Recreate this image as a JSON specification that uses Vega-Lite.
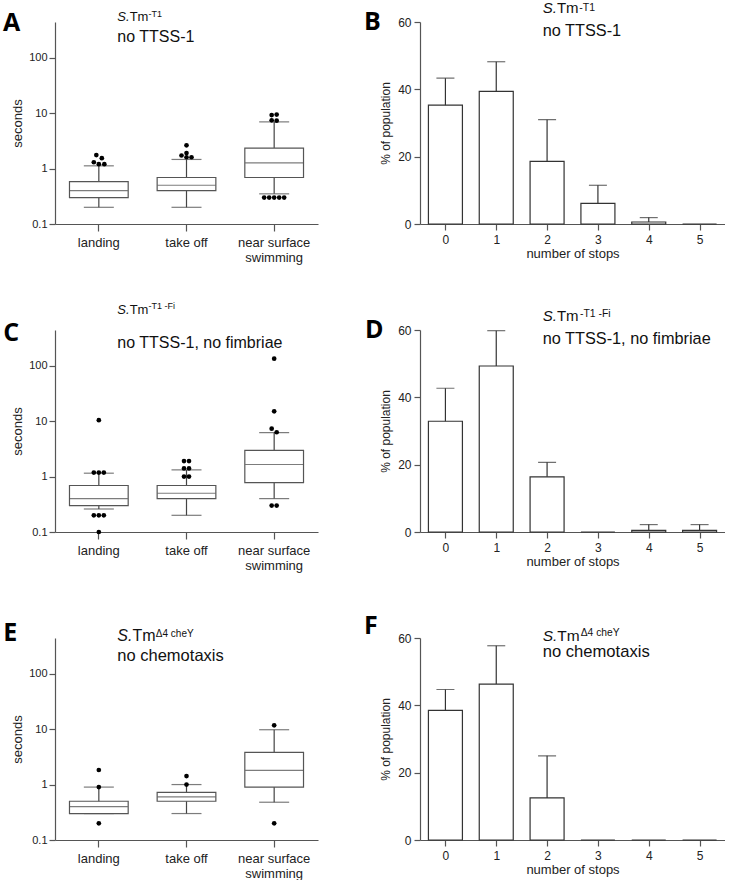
{
  "$schema": "https://vega.github.io/schema/vega-lite/v6.json",
  "background": "white",
  "padding": {"left": 3, "top": 0, "right": 0, "bottom": 0},
  "columns": 2,
  "bounds": "flush",
  "spacing": {"row": 106, "column": 102},
  "config": {
    "view": {"stroke": null},
    "font": "Liberation Sans",
    "text": {"font": "Liberation Sans", "color": "#111"},
    "axis": {"domainColor": "#555", "tickColor": "#555", "labelColor": "#222", "titleColor": "#222", "labelFont": "Liberation Sans", "titleFont": "Liberation Sans", "titleFontWeight": "normal", "grid": false, "domainWidth": 1.2, "tickWidth": 1.2}
  },
  "datasets": {
    "box": [
      {"panel": "A", "cat": "landing", "lo": 0.2, "q1": 0.3, "med": 0.4, "q3": 0.58, "hi": 1.12},
      {"panel": "A", "cat": "take off", "lo": 0.2, "q1": 0.4, "med": 0.5, "q3": 0.69, "hi": 1.46},
      {"panel": "A", "cat": "near surface swimming", "lo": 0.35, "q1": 0.69, "med": 1.27, "q3": 2.34, "hi": 6.95},
      {"panel": "C", "cat": "landing", "lo": 0.26, "q1": 0.3, "med": 0.4, "q3": 0.69, "hi": 1.15},
      {"panel": "C", "cat": "take off", "lo": 0.2, "q1": 0.4, "med": 0.5, "q3": 0.69, "hi": 1.32},
      {"panel": "C", "cat": "near surface swimming", "lo": 0.4, "q1": 0.78, "med": 1.65, "q3": 2.97, "hi": 6.2},
      {"panel": "E", "cat": "landing", "lo": 0.3, "q1": 0.3, "med": 0.4, "q3": 0.5, "hi": 0.9},
      {"panel": "E", "cat": "take off", "lo": 0.3, "q1": 0.5, "med": 0.6, "q3": 0.72, "hi": 1.0},
      {"panel": "E", "cat": "near surface swimming", "lo": 0.48, "q1": 0.9, "med": 1.8, "q3": 3.82, "hi": 9.75}
    ],
    "out": [
      {"panel": "A", "cat": "landing", "v": 1.75, "j": -0.5},
      {"panel": "A", "cat": "landing", "v": 1.54, "j": 0.6},
      {"panel": "A", "cat": "landing", "v": 1.3, "j": -1},
      {"panel": "A", "cat": "landing", "v": 1.2, "j": 0},
      {"panel": "A", "cat": "landing", "v": 1.2, "j": 1.1},
      {"panel": "A", "cat": "take off", "v": 2.62, "j": 0},
      {"panel": "A", "cat": "take off", "v": 1.9, "j": 0},
      {"panel": "A", "cat": "take off", "v": 1.72, "j": -1},
      {"panel": "A", "cat": "take off", "v": 1.6, "j": 0},
      {"panel": "A", "cat": "take off", "v": 1.6, "j": 1},
      {"panel": "A", "cat": "near surface swimming", "v": 9.2, "j": -0.5},
      {"panel": "A", "cat": "near surface swimming", "v": 9.4, "j": 0.5},
      {"panel": "A", "cat": "near surface swimming", "v": 7.4, "j": -0.5},
      {"panel": "A", "cat": "near surface swimming", "v": 7.3, "j": 0.5},
      {"panel": "A", "cat": "near surface swimming", "v": 0.3, "j": -2},
      {"panel": "A", "cat": "near surface swimming", "v": 0.3, "j": -1},
      {"panel": "A", "cat": "near surface swimming", "v": 0.3, "j": 0},
      {"panel": "A", "cat": "near surface swimming", "v": 0.3, "j": 1},
      {"panel": "A", "cat": "near surface swimming", "v": 0.3, "j": 2},
      {"panel": "C", "cat": "landing", "v": 10.4, "j": 0},
      {"panel": "C", "cat": "landing", "v": 1.18, "j": -1},
      {"panel": "C", "cat": "landing", "v": 1.18, "j": 0},
      {"panel": "C", "cat": "landing", "v": 1.18, "j": 1},
      {"panel": "C", "cat": "landing", "v": 0.2, "j": -1},
      {"panel": "C", "cat": "landing", "v": 0.2, "j": 0},
      {"panel": "C", "cat": "landing", "v": 0.2, "j": 1},
      {"panel": "C", "cat": "landing", "v": 0.1, "j": 0},
      {"panel": "C", "cat": "take off", "v": 1.9, "j": -0.5},
      {"panel": "C", "cat": "take off", "v": 1.9, "j": 0.5},
      {"panel": "C", "cat": "take off", "v": 1.4, "j": -0.5},
      {"panel": "C", "cat": "take off", "v": 1.4, "j": 0.5},
      {"panel": "C", "cat": "take off", "v": 1.0, "j": -0.5},
      {"panel": "C", "cat": "take off", "v": 1.0, "j": 0.5},
      {"panel": "C", "cat": "near surface swimming", "v": 134, "j": 0},
      {"panel": "C", "cat": "near surface swimming", "v": 15, "j": 0},
      {"panel": "C", "cat": "near surface swimming", "v": 7.3, "j": -0.5},
      {"panel": "C", "cat": "near surface swimming", "v": 6.3, "j": 0.5},
      {"panel": "C", "cat": "near surface swimming", "v": 0.3, "j": -0.5},
      {"panel": "C", "cat": "near surface swimming", "v": 0.3, "j": 0.5},
      {"panel": "E", "cat": "landing", "v": 1.83, "j": 0},
      {"panel": "E", "cat": "landing", "v": 0.9, "j": 0},
      {"panel": "E", "cat": "landing", "v": 0.2, "j": 0},
      {"panel": "E", "cat": "take off", "v": 1.42, "j": 0},
      {"panel": "E", "cat": "take off", "v": 1.0, "j": 0},
      {"panel": "E", "cat": "near surface swimming", "v": 11.7, "j": 0},
      {"panel": "E", "cat": "near surface swimming", "v": 0.2, "j": 0}
    ],
    "bars": [
      {"panel": "B", "stops": 0, "pct": 35.3, "hi": 43.3},
      {"panel": "B", "stops": 1, "pct": 39.4, "hi": 48.2},
      {"panel": "B", "stops": 2, "pct": 18.6, "hi": 31.0},
      {"panel": "B", "stops": 3, "pct": 6.1, "hi": 11.5},
      {"panel": "B", "stops": 4, "pct": 0.6, "hi": 1.9},
      {"panel": "B", "stops": 5, "pct": 0, "hi": null},
      {"panel": "D", "stops": 0, "pct": 32.9, "hi": 42.7},
      {"panel": "D", "stops": 1, "pct": 49.3, "hi": 59.8},
      {"panel": "D", "stops": 2, "pct": 16.4, "hi": 20.7},
      {"panel": "D", "stops": 3, "pct": 0, "hi": null},
      {"panel": "D", "stops": 4, "pct": 0.5, "hi": 2.2},
      {"panel": "D", "stops": 5, "pct": 0.5, "hi": 2.2},
      {"panel": "F", "stops": 0, "pct": 38.5, "hi": 44.7},
      {"panel": "F", "stops": 1, "pct": 46.3, "hi": 57.7},
      {"panel": "F", "stops": 2, "pct": 12.5, "hi": 25.0},
      {"panel": "F", "stops": 3, "pct": 0, "hi": null},
      {"panel": "F", "stops": 4, "pct": 0, "hi": null},
      {"panel": "F", "stops": 5, "pct": 0, "hi": null}
    ]
  },
  "concat": [
    {
      "width": 263, "height": 202,
      "layer": [
        {"data": {"name": "box"}, "transform": [{"filter": "datum.panel === 'A'"}], "mark": {"type": "rule", "color": "#444", "strokeWidth": 1.2},
         "encoding": {"x": {"field": "cat", "type": "nominal", "scale": {"type": "band", "domain": ["landing", "take off", "near surface swimming"], "paddingInner": 0.33, "paddingOuter": 0.165}, "axis": {"title": null, "labelAngle": 0, "labelFontSize": 13, "tickSize": 7, "labelPadding": 5, "labelLineHeight": 15, "labelExpr": "datum.label == 'near surface swimming' ? ['near surface', 'swimming'] : datum.label"}},
                      "y": {"field": "lo", "type": "quantitative", "scale": {"type": "log", "domain": [0.1, 440], "nice": false}, "axis": {"values": [0.1, 1, 10, 100], "format": "~g", "title": "seconds", "labelFontSize": 11, "titleFontSize": 13, "tickSize": 6, "labelPadding": 2, "titlePadding": 4}},
                      "y2": {"field": "hi"}}},
        {"data": {"name": "box"}, "transform": [{"filter": "datum.panel === 'A'"}], "mark": {"type": "tick", "color": "#444", "size": 30, "thickness": 1.2}, "encoding": {"x": {"field": "cat", "type": "nominal"}, "y": {"field": "lo", "type": "quantitative"}}},
        {"data": {"name": "box"}, "transform": [{"filter": "datum.panel === 'A'"}], "mark": {"type": "tick", "color": "#444", "size": 30, "thickness": 1.2}, "encoding": {"x": {"field": "cat", "type": "nominal"}, "y": {"field": "hi", "type": "quantitative"}}},
        {"data": {"name": "box"}, "transform": [{"filter": "datum.panel === 'A'"}], "mark": {"type": "bar", "fill": "white", "stroke": "#555", "strokeWidth": 1.2, "width": 58.7}, "encoding": {"x": {"field": "cat", "type": "nominal"}, "y": {"field": "q1", "type": "quantitative"}, "y2": {"field": "q3"}}},
        {"data": {"name": "box"}, "transform": [{"filter": "datum.panel === 'A'"}], "mark": {"type": "tick", "color": "#444", "size": 58, "thickness": 1.2}, "encoding": {"x": {"field": "cat", "type": "nominal"}, "y": {"field": "med", "type": "quantitative"}}},
        {"data": {"name": "out"}, "transform": [{"filter": "datum.panel === 'A'"}], "mark": {"type": "circle", "color": "#000", "size": 22, "opacity": 1}, "encoding": {"x": {"field": "cat", "type": "nominal"}, "xOffset": {"field": "j", "type": "quantitative", "scale": {"domain": [-2, 2], "range": [19.37, 39.37], "zero": false, "nice": false}}, "y": {"field": "v", "type": "quantitative"}}},
        {"data": {"values": [{}]}, "mark": {"type": "text", "text": "A", "font": "Open Sans", "fontWeight": "bold", "fontSize": 25, "align": "left", "baseline": "alphabetic", "dx": -95.8, "dy": 8.6, "color": "#000"}, "encoding": {"x": {"datum": "landing", "type": "nominal"}, "y": {"datum": 440, "type": "quantitative"}}},
        {"data": {"values": [{}]}, "mark": {"type": "text", "text": "S.", "fontStyle": "italic", "fontSize": 13, "align": "left", "baseline": "alphabetic", "dx": 18.5, "dy": -0.7}, "encoding": {"x": {"datum": "landing", "type": "nominal"}, "y": {"datum": 440, "type": "quantitative"}}},
        {"data": {"values": [{}]}, "mark": {"type": "text", "text": "Tm", "fontSize": 13, "align": "left", "baseline": "alphabetic", "dx": 30.8, "dy": -0.7}, "encoding": {"x": {"datum": "landing", "type": "nominal"}, "y": {"datum": 440, "type": "quantitative"}}},
        {"data": {"values": [{}]}, "mark": {"type": "text", "text": "-T1", "fontSize": 9, "align": "left", "baseline": "alphabetic", "dx": 49.6, "dy": -5}, "encoding": {"x": {"datum": "landing", "type": "nominal"}, "y": {"datum": 440, "type": "quantitative"}}},
        {"data": {"values": [{}]}, "mark": {"type": "text", "text": "no TTSS-1", "fontSize": 16, "align": "left", "baseline": "alphabetic", "dx": 18.5, "dy": 20.3}, "encoding": {"x": {"datum": "landing", "type": "nominal"}, "y": {"datum": 440, "type": "quantitative"}}}
      ]
    },
    {
      "width": 305, "height": 202,
      "layer": [
        {"data": {"name": "bars"}, "transform": [{"filter": "datum.panel === 'B'"}], "mark": {"type": "bar", "fill": "white", "stroke": "#333", "strokeWidth": 1.2, "width": 34},
         "encoding": {"x": {"field": "stops", "type": "quantitative", "scale": {"domain": [-0.5, 5.5], "nice": false, "zero": false, "padding": 0}, "axis": {"values": [0, 1, 2, 3, 4, 5], "format": "d", "title": "number of stops", "labelFontSize": 12, "titleFontSize": 13, "tickSize": 6, "labelPadding": 4, "titlePadding": 2}},
                      "y": {"field": "pct", "type": "quantitative", "scale": {"domain": [0, 60], "nice": false}, "axis": {"values": [0, 20, 40, 60], "title": "% of population", "labelFontSize": 12, "titleFontSize": 12, "tickSize": 6, "labelPadding": 3, "titlePadding": 5}}}},
        {"data": {"name": "bars"}, "transform": [{"filter": "datum.panel === 'B' && datum.hi != null"}], "mark": {"type": "rule", "color": "#333", "strokeWidth": 1.2}, "encoding": {"x": {"field": "stops", "type": "quantitative"}, "y": {"field": "pct", "type": "quantitative"}, "y2": {"field": "hi"}}},
        {"data": {"name": "bars"}, "transform": [{"filter": "datum.panel === 'B' && datum.hi != null"}], "mark": {"type": "tick", "color": "#333", "orient": "horizontal", "size": 18, "thickness": 1.2}, "encoding": {"x": {"field": "stops", "type": "quantitative"}, "y": {"field": "hi", "type": "quantitative"}}},
        {"data": {"values": [{}]}, "mark": {"type": "text", "text": "B", "font": "Open Sans", "fontWeight": "bold", "fontSize": 25, "align": "left", "baseline": "alphabetic", "dx": -183, "dy": 7.6, "color": "#000"}, "encoding": {"x": {"datum": 2, "type": "quantitative"}, "y": {"datum": 60, "type": "quantitative"}}},
        {"data": {"values": [{}]}, "mark": {"type": "text", "text": "S.", "fontStyle": "italic", "fontSize": 15, "align": "left", "baseline": "alphabetic", "dx": -4.4, "dy": -9.1}, "encoding": {"x": {"datum": 2, "type": "quantitative"}, "y": {"datum": 60, "type": "quantitative"}}},
        {"data": {"values": [{}]}, "mark": {"type": "text", "text": "Tm", "fontSize": 15, "align": "left", "baseline": "alphabetic", "dx": 9.8, "dy": -9.1}, "encoding": {"x": {"datum": 2, "type": "quantitative"}, "y": {"datum": 60, "type": "quantitative"}}},
        {"data": {"values": [{}]}, "mark": {"type": "text", "text": "-T1", "fontSize": 10.5, "align": "left", "baseline": "alphabetic", "dx": 32.2, "dy": -11.4}, "encoding": {"x": {"datum": 2, "type": "quantitative"}, "y": {"datum": 60, "type": "quantitative"}}},
        {"data": {"values": [{}]}, "mark": {"type": "text", "text": "no TTSS-1", "fontSize": 16.3, "align": "left", "baseline": "alphabetic", "dx": -4.4, "dy": 13.6}, "encoding": {"x": {"datum": 2, "type": "quantitative"}, "y": {"datum": 60, "type": "quantitative"}}}
      ]
    },
    {
      "width": 263, "height": 202,
      "layer": [
        {"data": {"name": "box"}, "transform": [{"filter": "datum.panel === 'C'"}], "mark": {"type": "rule", "color": "#444", "strokeWidth": 1.2},
         "encoding": {"x": {"field": "cat", "type": "nominal", "scale": {"type": "band", "domain": ["landing", "take off", "near surface swimming"], "paddingInner": 0.33, "paddingOuter": 0.165}, "axis": {"title": null, "labelAngle": 0, "labelFontSize": 13, "tickSize": 7, "labelPadding": 5, "labelLineHeight": 15, "labelExpr": "datum.label == 'near surface swimming' ? ['near surface', 'swimming'] : datum.label"}},
                      "y": {"field": "lo", "type": "quantitative", "scale": {"type": "log", "domain": [0.1, 440], "nice": false}, "axis": {"values": [0.1, 1, 10, 100], "format": "~g", "title": "seconds", "labelFontSize": 11, "titleFontSize": 13, "tickSize": 6, "labelPadding": 2, "titlePadding": 4}},
                      "y2": {"field": "hi"}}},
        {"data": {"name": "box"}, "transform": [{"filter": "datum.panel === 'C'"}], "mark": {"type": "tick", "color": "#444", "size": 30, "thickness": 1.2}, "encoding": {"x": {"field": "cat", "type": "nominal"}, "y": {"field": "lo", "type": "quantitative"}}},
        {"data": {"name": "box"}, "transform": [{"filter": "datum.panel === 'C'"}], "mark": {"type": "tick", "color": "#444", "size": 30, "thickness": 1.2}, "encoding": {"x": {"field": "cat", "type": "nominal"}, "y": {"field": "hi", "type": "quantitative"}}},
        {"data": {"name": "box"}, "transform": [{"filter": "datum.panel === 'C'"}], "mark": {"type": "bar", "fill": "white", "stroke": "#555", "strokeWidth": 1.2, "width": 58.7}, "encoding": {"x": {"field": "cat", "type": "nominal"}, "y": {"field": "q1", "type": "quantitative"}, "y2": {"field": "q3"}}},
        {"data": {"name": "box"}, "transform": [{"filter": "datum.panel === 'C'"}], "mark": {"type": "tick", "color": "#444", "size": 58, "thickness": 1.2}, "encoding": {"x": {"field": "cat", "type": "nominal"}, "y": {"field": "med", "type": "quantitative"}}},
        {"data": {"name": "out"}, "transform": [{"filter": "datum.panel === 'C'"}], "mark": {"type": "circle", "color": "#000", "size": 22, "opacity": 1}, "encoding": {"x": {"field": "cat", "type": "nominal"}, "xOffset": {"field": "j", "type": "quantitative", "scale": {"domain": [-2, 2], "range": [19.37, 39.37], "zero": false, "nice": false}}, "y": {"field": "v", "type": "quantitative"}}},
        {"data": {"values": [{}]}, "mark": {"type": "text", "text": "C", "font": "Open Sans", "fontWeight": "bold", "fontSize": 25, "align": "left", "baseline": "alphabetic", "dx": -95.5, "dy": 10.6, "color": "#000"}, "encoding": {"x": {"datum": "landing", "type": "nominal"}, "y": {"datum": 440, "type": "quantitative"}}},
        {"data": {"values": [{}]}, "mark": {"type": "text", "text": "S.", "fontStyle": "italic", "fontSize": 13, "align": "left", "baseline": "alphabetic", "dx": 18.5, "dy": -16.1}, "encoding": {"x": {"datum": "landing", "type": "nominal"}, "y": {"datum": 440, "type": "quantitative"}}},
        {"data": {"values": [{}]}, "mark": {"type": "text", "text": "Tm", "fontSize": 13, "align": "left", "baseline": "alphabetic", "dx": 30.8, "dy": -16.1}, "encoding": {"x": {"datum": "landing", "type": "nominal"}, "y": {"datum": 440, "type": "quantitative"}}},
        {"data": {"values": [{}]}, "mark": {"type": "text", "text": "-T1 -Fi", "fontSize": 9, "align": "left", "baseline": "alphabetic", "dx": 49.6, "dy": -21}, "encoding": {"x": {"datum": "landing", "type": "nominal"}, "y": {"datum": 440, "type": "quantitative"}}},
        {"data": {"values": [{}]}, "mark": {"type": "text", "text": "no TTSS-1, no fimbriae", "fontSize": 16, "align": "left", "baseline": "alphabetic", "dx": 18.5, "dy": 17.6}, "encoding": {"x": {"datum": "landing", "type": "nominal"}, "y": {"datum": 440, "type": "quantitative"}}}
      ]
    },
    {
      "width": 305, "height": 202,
      "layer": [
        {"data": {"name": "bars"}, "transform": [{"filter": "datum.panel === 'D'"}], "mark": {"type": "bar", "fill": "white", "stroke": "#333", "strokeWidth": 1.2, "width": 34},
         "encoding": {"x": {"field": "stops", "type": "quantitative", "scale": {"domain": [-0.5, 5.5], "nice": false, "zero": false, "padding": 0}, "axis": {"values": [0, 1, 2, 3, 4, 5], "format": "d", "title": "number of stops", "labelFontSize": 12, "titleFontSize": 13, "tickSize": 6, "labelPadding": 4, "titlePadding": 2}},
                      "y": {"field": "pct", "type": "quantitative", "scale": {"domain": [0, 60], "nice": false}, "axis": {"values": [0, 20, 40, 60], "title": "% of population", "labelFontSize": 12, "titleFontSize": 12, "tickSize": 6, "labelPadding": 3, "titlePadding": 5}}}},
        {"data": {"name": "bars"}, "transform": [{"filter": "datum.panel === 'D' && datum.hi != null"}], "mark": {"type": "rule", "color": "#333", "strokeWidth": 1.2}, "encoding": {"x": {"field": "stops", "type": "quantitative"}, "y": {"field": "pct", "type": "quantitative"}, "y2": {"field": "hi"}}},
        {"data": {"name": "bars"}, "transform": [{"filter": "datum.panel === 'D' && datum.hi != null"}], "mark": {"type": "tick", "color": "#333", "orient": "horizontal", "size": 18, "thickness": 1.2}, "encoding": {"x": {"field": "stops", "type": "quantitative"}, "y": {"field": "hi", "type": "quantitative"}}},
        {"data": {"values": [{}]}, "mark": {"type": "text", "text": "D", "font": "Open Sans", "fontWeight": "bold", "fontSize": 25, "align": "left", "baseline": "alphabetic", "dx": -182, "dy": 7.6, "color": "#000"}, "encoding": {"x": {"datum": 2, "type": "quantitative"}, "y": {"datum": 60, "type": "quantitative"}}},
        {"data": {"values": [{}]}, "mark": {"type": "text", "text": "S.", "fontStyle": "italic", "fontSize": 15, "align": "left", "baseline": "alphabetic", "dx": -4.4, "dy": -9.4}, "encoding": {"x": {"datum": 2, "type": "quantitative"}, "y": {"datum": 60, "type": "quantitative"}}},
        {"data": {"values": [{}]}, "mark": {"type": "text", "text": "Tm", "fontSize": 15, "align": "left", "baseline": "alphabetic", "dx": 9.8, "dy": -9.4}, "encoding": {"x": {"datum": 2, "type": "quantitative"}, "y": {"datum": 60, "type": "quantitative"}}},
        {"data": {"values": [{}]}, "mark": {"type": "text", "text": "-T1 -Fi", "fontSize": 10.4, "align": "left", "baseline": "alphabetic", "dx": 32.9, "dy": -12.7}, "encoding": {"x": {"datum": 2, "type": "quantitative"}, "y": {"datum": 60, "type": "quantitative"}}},
        {"data": {"values": [{}]}, "mark": {"type": "text", "text": "no TTSS-1, no fimbriae", "fontSize": 16.3, "align": "left", "baseline": "alphabetic", "dx": -4.4, "dy": 13.6}, "encoding": {"x": {"datum": 2, "type": "quantitative"}, "y": {"datum": 60, "type": "quantitative"}}}
      ]
    },
    {
      "width": 263, "height": 202,
      "layer": [
        {"data": {"name": "box"}, "transform": [{"filter": "datum.panel === 'E'"}], "mark": {"type": "rule", "color": "#444", "strokeWidth": 1.2},
         "encoding": {"x": {"field": "cat", "type": "nominal", "scale": {"type": "band", "domain": ["landing", "take off", "near surface swimming"], "paddingInner": 0.33, "paddingOuter": 0.165}, "axis": {"title": null, "labelAngle": 0, "labelFontSize": 13, "tickSize": 7, "labelPadding": 5, "labelLineHeight": 15, "labelExpr": "datum.label == 'near surface swimming' ? ['near surface', 'swimming'] : datum.label"}},
                      "y": {"field": "lo", "type": "quantitative", "scale": {"type": "log", "domain": [0.1, 440], "nice": false}, "axis": {"values": [0.1, 1, 10, 100], "format": "~g", "title": "seconds", "labelFontSize": 11, "titleFontSize": 13, "tickSize": 6, "labelPadding": 2, "titlePadding": 4}},
                      "y2": {"field": "hi"}}},
        {"data": {"name": "box"}, "transform": [{"filter": "datum.panel === 'E'"}], "mark": {"type": "tick", "color": "#444", "size": 30, "thickness": 1.2}, "encoding": {"x": {"field": "cat", "type": "nominal"}, "y": {"field": "lo", "type": "quantitative"}}},
        {"data": {"name": "box"}, "transform": [{"filter": "datum.panel === 'E'"}], "mark": {"type": "tick", "color": "#444", "size": 30, "thickness": 1.2}, "encoding": {"x": {"field": "cat", "type": "nominal"}, "y": {"field": "hi", "type": "quantitative"}}},
        {"data": {"name": "box"}, "transform": [{"filter": "datum.panel === 'E'"}], "mark": {"type": "bar", "fill": "white", "stroke": "#555", "strokeWidth": 1.2, "width": 58.7}, "encoding": {"x": {"field": "cat", "type": "nominal"}, "y": {"field": "q1", "type": "quantitative"}, "y2": {"field": "q3"}}},
        {"data": {"name": "box"}, "transform": [{"filter": "datum.panel === 'E'"}], "mark": {"type": "tick", "color": "#444", "size": 58, "thickness": 1.2}, "encoding": {"x": {"field": "cat", "type": "nominal"}, "y": {"field": "med", "type": "quantitative"}}},
        {"data": {"name": "out"}, "transform": [{"filter": "datum.panel === 'E'"}], "mark": {"type": "circle", "color": "#000", "size": 22, "opacity": 1}, "encoding": {"x": {"field": "cat", "type": "nominal"}, "xOffset": {"field": "j", "type": "quantitative", "scale": {"domain": [-2, 2], "range": [19.37, 39.37], "zero": false, "nice": false}}, "y": {"field": "v", "type": "quantitative"}}},
        {"data": {"values": [{}]}, "mark": {"type": "text", "text": "E", "font": "Open Sans", "fontWeight": "bold", "fontSize": 25, "align": "left", "baseline": "alphabetic", "dx": -95.5, "dy": 2.6, "color": "#000"}, "encoding": {"x": {"datum": "landing", "type": "nominal"}, "y": {"datum": 440, "type": "quantitative"}}},
        {"data": {"values": [{}]}, "mark": {"type": "text", "text": "S.", "fontStyle": "italic", "fontSize": 16, "align": "left", "baseline": "alphabetic", "dx": 18.5, "dy": 2.6}, "encoding": {"x": {"datum": "landing", "type": "nominal"}, "y": {"datum": 440, "type": "quantitative"}}},
        {"data": {"values": [{}]}, "mark": {"type": "text", "text": "Tm", "fontSize": 16, "align": "left", "baseline": "alphabetic", "dx": 33.6, "dy": 2.6}, "encoding": {"x": {"datum": "landing", "type": "nominal"}, "y": {"datum": 440, "type": "quantitative"}}},
        {"data": {"values": [{}]}, "mark": {"type": "text", "text": "Δ4 cheY", "fontSize": 10, "align": "left", "baseline": "alphabetic", "dx": 57, "dy": -0.7}, "encoding": {"x": {"datum": "landing", "type": "nominal"}, "y": {"datum": 440, "type": "quantitative"}}},
        {"data": {"values": [{}]}, "mark": {"type": "text", "text": "no chemotaxis", "fontSize": 16.5, "align": "left", "baseline": "alphabetic", "dx": 18.5, "dy": 22.6}, "encoding": {"x": {"datum": "landing", "type": "nominal"}, "y": {"datum": 440, "type": "quantitative"}}}
      ]
    },
    {
      "width": 305, "height": 202,
      "layer": [
        {"data": {"name": "bars"}, "transform": [{"filter": "datum.panel === 'F'"}], "mark": {"type": "bar", "fill": "white", "stroke": "#333", "strokeWidth": 1.2, "width": 34},
         "encoding": {"x": {"field": "stops", "type": "quantitative", "scale": {"domain": [-0.5, 5.5], "nice": false, "zero": false, "padding": 0}, "axis": {"values": [0, 1, 2, 3, 4, 5], "format": "d", "title": "number of stops", "labelFontSize": 12, "titleFontSize": 13, "tickSize": 6, "labelPadding": 4, "titlePadding": 2}},
                      "y": {"field": "pct", "type": "quantitative", "scale": {"domain": [0, 60], "nice": false}, "axis": {"values": [0, 20, 40, 60], "title": "% of population", "labelFontSize": 12, "titleFontSize": 12, "tickSize": 6, "labelPadding": 3, "titlePadding": 5}}}},
        {"data": {"name": "bars"}, "transform": [{"filter": "datum.panel === 'F' && datum.hi != null"}], "mark": {"type": "rule", "color": "#333", "strokeWidth": 1.2}, "encoding": {"x": {"field": "stops", "type": "quantitative"}, "y": {"field": "pct", "type": "quantitative"}, "y2": {"field": "hi"}}},
        {"data": {"name": "bars"}, "transform": [{"filter": "datum.panel === 'F' && datum.hi != null"}], "mark": {"type": "tick", "color": "#333", "orient": "horizontal", "size": 18, "thickness": 1.2}, "encoding": {"x": {"field": "stops", "type": "quantitative"}, "y": {"field": "hi", "type": "quantitative"}}},
        {"data": {"values": [{}]}, "mark": {"type": "text", "text": "F", "font": "Open Sans", "fontWeight": "bold", "fontSize": 25, "align": "left", "baseline": "alphabetic", "dx": -183, "dy": -4.4, "color": "#000"}, "encoding": {"x": {"datum": 2, "type": "quantitative"}, "y": {"datum": 60, "type": "quantitative"}}},
        {"data": {"values": [{}]}, "mark": {"type": "text", "text": "S.", "fontStyle": "italic", "fontSize": 15.5, "align": "left", "baseline": "alphabetic", "dx": -4.4, "dy": 2.6}, "encoding": {"x": {"datum": 2, "type": "quantitative"}, "y": {"datum": 60, "type": "quantitative"}}},
        {"data": {"values": [{}]}, "mark": {"type": "text", "text": "Tm", "fontSize": 15.5, "align": "left", "baseline": "alphabetic", "dx": 10.2, "dy": 2.6}, "encoding": {"x": {"datum": 2, "type": "quantitative"}, "y": {"datum": 60, "type": "quantitative"}}},
        {"data": {"values": [{}]}, "mark": {"type": "text", "text": "Δ4 cheY", "fontSize": 10.3, "align": "left", "baseline": "alphabetic", "dx": 33.6, "dy": -2.4}, "encoding": {"x": {"datum": 2, "type": "quantitative"}, "y": {"datum": 60, "type": "quantitative"}}},
        {"data": {"values": [{}]}, "mark": {"type": "text", "text": "no chemotaxis", "fontSize": 16.6, "align": "left", "baseline": "alphabetic", "dx": -4.4, "dy": 19.3}, "encoding": {"x": {"datum": 2, "type": "quantitative"}, "y": {"datum": 60, "type": "quantitative"}}}
      ]
    }
  ]
}
